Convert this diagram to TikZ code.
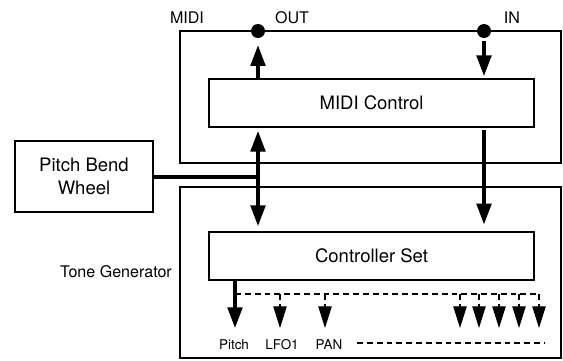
\documentclass[tikz,border=0pt]{standalone}
\usepackage{fontspec}
\setmainfont{TeX Gyre Heros}
\usetikzlibrary{positioning, arrows.meta}

\tikzset{
  box/.style={draw, line width=1.6pt, rectangle, inner sep=0pt, font=\fontsize{15.8}{18}\selectfont},
  frame/.style={draw, line width=1.6pt},
  bigarrow/.style={line width=2.7pt, -{Triangle[length=0.62cm, width=0.44cm]}},
  bigline/.style={line width=2.7pt},
  busline/.style={line width=1pt, dash pattern=on 5pt off 3.4pt},
  dropline/.style={busline, -{Triangle[length=0.65cm, width=0.4cm]}},
  dot/.style={circle, fill, inner sep=0pt, minimum size=0.42cm},
  lbl/.style={font=\fontsize{13.7}{16}\selectfont, inner sep=0pt},
  small/.style={font=\fontsize{11.5}{14}\selectfont, inner sep=0pt, anchor=base},
}

\begin{document}
\begin{tikzpicture}[x=0.03cm, y=-0.03cm]
\useasboundingbox (0,0) rectangle (563,360);
\draw [frame] (180,31) rectangle (561,163);
\draw [frame] (180,187) rectangle (561,358);
\node [lbl] at (187,18) (midi) {MIDI};
\node [lbl] at (292,18) (outlbl) {OUT};
\node [lbl] at (512,18) (inlbl) {IN};
\node [lbl] at (116,272) (tone) {Tone Generator};
\node [dot] at (258,31) (out) {};
\node [dot] at (484,31) (in) {};
\node [box, minimum width=9.75cm, minimum height=1.44cm] at (371.5,103) (mctl) {MIDI Control};
\node [box, minimum width=9.75cm, minimum height=1.44cm] at (371.5,256) (cset) {Controller Set};
\node [box, minimum width=4.14cm, minimum height=2.13cm, align=center] at (84,176.5) (pbw) {Pitch Bend\\[1pt]Wheel};
\coordinate (jn) at (258,177);
\draw [bigarrow, shorten >=0.21cm] (mctl.north -| out) -- (out.south);
\draw [bigarrow, shorten <=0.09cm, shorten >=0.06cm] (in.south) -- (mctl.north -| in);
\draw [bigline] (pbw.east |- jn) -- (jn);
\draw [bigarrow, shorten >=0.09cm] (jn) -- (mctl.south -| jn);
\draw [bigarrow, shorten >=0.15cm] (jn) -- (cset.north -| jn);
\draw [bigarrow, shorten <=0.06cm, shorten >=0.2cm] (mctl.south -| in) -- (cset.north -| in);
\coordinate (tpitch) at (235,328);
\draw [bigarrow] (cset.south -| tpitch) -- (tpitch);
\coordinate (busL) at (235,294);
\coordinate (busR) at (539,294);
\draw [busline] (busL) -- (busR);
\foreach \n/\x in {lfo/280, pan/325, a/460, b/479, c/499, d/519, e/539}
  {\coordinate (t\n) at (\x,328);
   \draw [dropline] (t\n |- busL) -- (t\n);}
\node [small] at (234,349) (pitch) {Pitch};
\node [small] at (282,349) (lfo) {LFO1};
\node [small] at (329,349) (pan) {PAN};
\coordinate (moreL) at (357,343);
\coordinate (moreR) at (545,343);
\draw [busline] (moreL) -- (moreR);
\end{tikzpicture}
\end{document}
